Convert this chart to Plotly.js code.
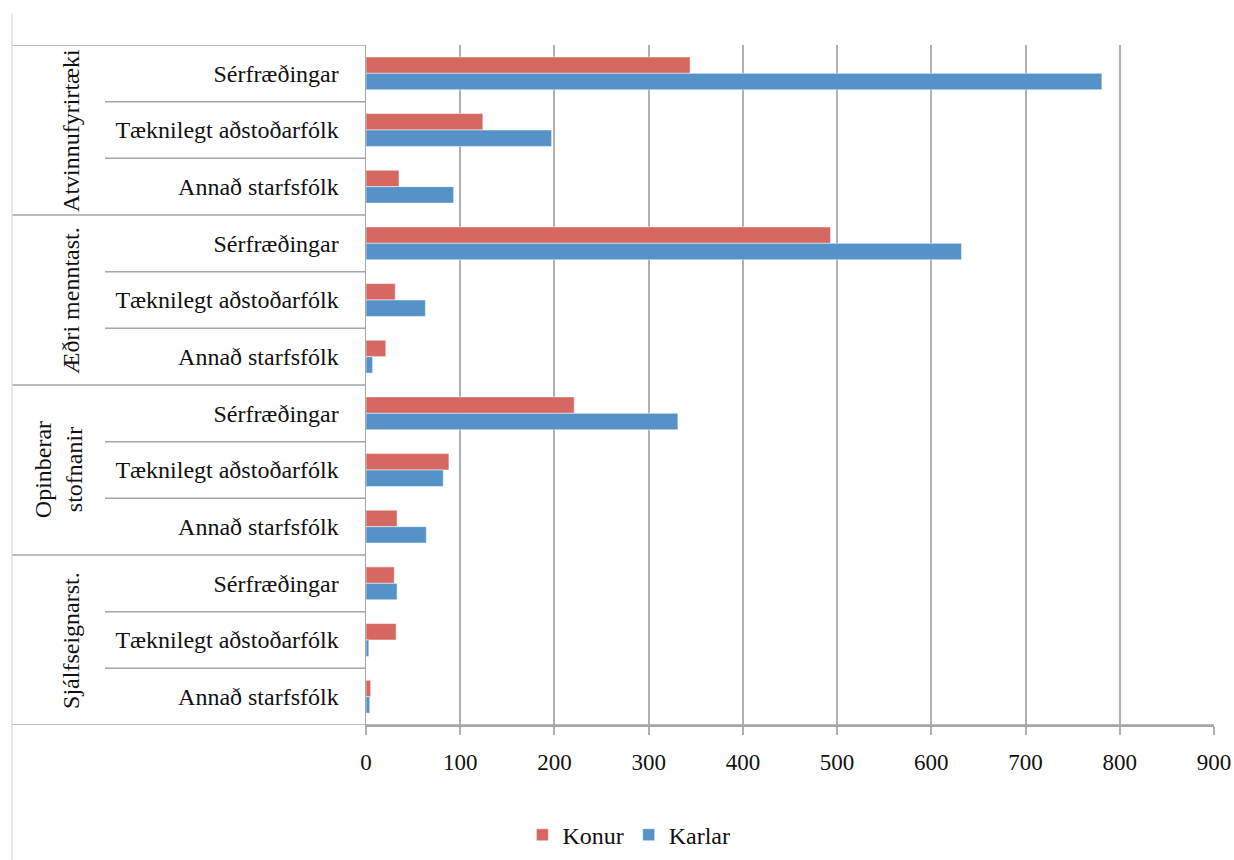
<!DOCTYPE html>
<html>
<head>
<meta charset="utf-8">
<script src="https://cdn.plot.ly/plotly-3.0.1.min.js"></script>
<style>html,body{margin:0;padding:0;background:#fff;}#chart{width:1234px;height:860px;}</style>
</head>
<body>
<div id="chart"></div>
<script>
const groups = ["Atvinnufyrirtæki", "Æðri menntast.", "Opinberar<br>stofnanir", "Sjálfseignarst."];
const subs = ["Sérfræðingar", "Tæknilegt aðstoðarfólk", "Annað starfsfólk"];
const konur = [344, 124, 35, 493, 31, 21, 221, 88, 33, 30, 32, 5];
const karlar = [781, 197, 93, 632, 63, 7, 331, 82, 64, 33, 3, 4];
const seriesNames = ["Konur", "Karlar"];
const xTicks = [0, 100, 200, 300, 400, 500, 600, 700, 800, 900];

const cats = [];
const catText = [];
groups.forEach(g => subs.forEach(s => { cats.push(g + " | " + s); catText.push(s); }));

const serif = "'Liberation Serif', 'Times New Roman', Times, serif";
const red = "rgb(213,104,97)";
const blue = "rgb(84,146,199)";

const traces = [
  {type: "bar", orientation: "h", name: seriesNames[0], y: cats, x: konur,
   marker: {color: red, line: {color: "rgba(255,255,255,0.5)", width: 1}}},
  {type: "bar", orientation: "h", name: seriesNames[1], y: cats, x: karlar,
   marker: {color: blue, line: {color: "rgba(255,255,255,0.5)", width: 1}}}
];

const panelLeft = -0.4175, subLeft = -0.3078;
const lineCol = "#a6a6a6";
const shapes = [];
shapes.push({type: "line", xref: "paper", yref: "y", x0: panelLeft, x1: 0, y0: -0.5, y1: -0.5, line: {color: lineCol, width: 1.5}});
shapes.push({type: "line", xref: "paper", yref: "y", x0: panelLeft, x1: 1, y0: cats.length - 0.5, y1: cats.length - 0.5, line: {color: lineCol, width: 1.5}});
for (let i = 0; i < cats.length - 1; i++) {
  const boundary = i + 0.5;
  const isGroup = (i % subs.length) === subs.length - 1;
  shapes.push({type: "line", xref: "paper", yref: "y", x0: isGroup ? panelLeft : subLeft, x1: 0,
    y0: boundary, y1: boundary, line: {color: lineCol, width: 1.5}});
}
shapes.push({type: "line", xref: "paper", yref: "paper", x0: panelLeft, x1: panelLeft, y0: -0.2, y1: 1.046, line: {color: "#d9d9d9", width: 1.2}});

const annotations = groups.map((g, gi) => {
  const lines = g.split("<br>").length;
  return {
    xref: "paper", yref: "y", x: lines > 1 ? -0.363 : -0.348, y: cats[gi * subs.length + 1],
    text: g, textangle: -90, showarrow: false, xanchor: "center", yanchor: "middle",
    font: {family: serif, size: 24, color: "#111"}
  };
});

const layout = {
  width: 1234, height: 860,
  margin: {l: 366, r: 20, t: 45, b: 135, autoexpand: false},
  paper_bgcolor: "#fff", plot_bgcolor: "#fff",
  barmode: "group", bargap: 0.42, bargroupgap: 0,
  font: {family: serif, size: 24, color: "#111"},
  xaxis: {range: [0, 900], tickvals: xTicks, ticktext: xTicks.map(String),
    showgrid: true, gridcolor: "#b0b0b0", gridwidth: 2,
    showline: true, linecolor: lineCol, linewidth: 1.5,
    ticks: "outside", ticklen: 8, tickcolor: "#b0b0b0", tickwidth: 2,
    ticklabelstandoff: 8,
    zeroline: false, fixedrange: true,
    tickfont: {family: serif, size: 23, color: "#111"}},
  yaxis: {type: "category", categoryorder: "array", categoryarray: cats,
    range: [cats.length - 0.5, -0.5],
    tickvals: cats, ticktext: catText, ticks: "", ticklabelstandoff: 21,
    showgrid: false, zeroline: false, showline: true, linecolor: lineCol, linewidth: 1.5,
    tickfont: {family: serif, size: 24, color: "#111"}},
  showlegend: true,
  legend: {orientation: "h", xref: "paper", yref: "paper", x: 0.31, y: -0.162,
    xanchor: "center", yanchor: "middle", traceorder: "normal",
    font: {family: serif, size: 24, color: "#111"}, itemwidth: 30},
  shapes: shapes,
  annotations: annotations
};

Plotly.newPlot("chart", traces, layout, {displayModeBar: false, staticPlot: true});
</script>
</body>
</html>
